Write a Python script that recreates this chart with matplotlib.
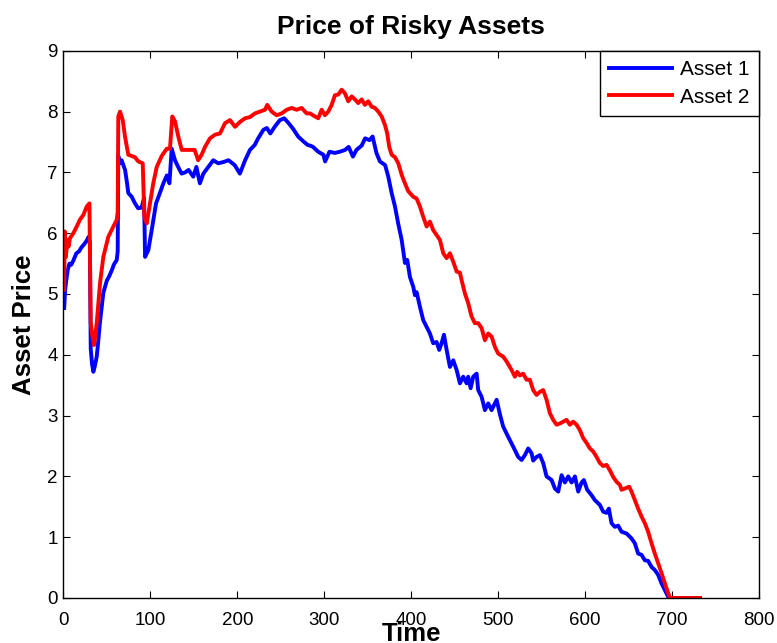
import matplotlib
matplotlib.use("Agg")
import matplotlib.pyplot as plt

plt.rcParams['font.family'] = ['Liberation Sans', 'DejaVu Sans']

# Asset 1 (blue)
asset1_time = [1, 2, 3, 5, 7, 9, 11.5, 15, 18, 21, 24, 27, 29, 30.5, 31.5, 33, 34.5, 36,
               38.4, 40, 42, 46, 50, 53, 56, 58, 61.4, 62.5, 63.2, 65, 67, 71, 73, 74.7,
               78.6, 82.4, 86, 90, 92.8, 94, 97.7, 101.6, 106.6, 111, 115, 119, 122, 124.6,
               128.4, 132, 136, 140, 144, 149.4, 153, 157, 161, 166.7, 172.4, 178, 184, 190,
               197, 203, 209, 214.6, 220, 224, 230, 234, 238, 243, 249, 254, 259, 264, 270,
               276, 281, 284, 287, 293, 299, 301, 306, 312, 318, 324, 328, 333, 337, 343,
               347, 352, 355.6, 360, 364, 370, 373.6, 377.5, 381.3, 385, 389, 392.8, 395.4,
               398.5, 402.3, 404.3, 406.2, 410, 413.8, 417.7, 421.5, 425.3, 429.2, 432.2,
               434.9, 437.6, 440.7, 444.5, 448.3, 452.2, 456, 459.8, 463.7, 465.5, 468.3,
               471.3, 475.2, 477, 480.9, 484.7, 488.5, 492.4, 498.2, 502, 505.7, 511.5,
               517.2, 523, 526.9, 530.7, 534.5, 538.4, 540.2, 544.1, 547.9, 551.7, 555.6,
               561.4, 565.2, 569, 572.9, 576.7, 580.5, 584.4, 588.2, 592, 595.9, 598.5,
               602.3, 607.4, 611.1, 616.9, 620.7, 624.6, 627.2, 630.3, 634.1, 637.9, 641.8,
               647.6, 653.3, 657.1, 660.9, 664.8, 668.6, 672.4, 676.3, 680.1, 683.9, 687.8,
               691.6, 695.4, 696.5, 732]
asset1_price = [4.77, 5.05, 5.18, 5.39, 5.50, 5.48, 5.55, 5.67, 5.70, 5.77, 5.82, 5.88, 5.94,
                5.85, 4.10, 3.85, 3.72, 3.80, 3.97, 4.20, 4.52, 5.02, 5.22, 5.30, 5.40, 5.48,
                5.56, 5.70, 7.27, 7.15, 7.20, 7.04, 6.85, 6.66, 6.60, 6.49, 6.41, 6.42, 6.58,
                5.61, 5.72, 6.05, 6.49, 6.66, 6.82, 6.95, 6.82, 7.39, 7.20, 7.09, 6.98, 7.00,
                7.04, 6.93, 7.09, 6.82, 6.98, 7.09, 7.20, 7.15, 7.17, 7.20, 7.12, 6.98, 7.20,
                7.37, 7.45, 7.56, 7.70, 7.73, 7.64, 7.75, 7.86, 7.89, 7.81, 7.72, 7.59, 7.51,
                7.45, 7.44, 7.42, 7.34, 7.29, 7.18, 7.34, 7.32, 7.34, 7.37, 7.42, 7.26, 7.37,
                7.44, 7.56, 7.53, 7.59, 7.32, 7.18, 7.12, 6.93, 6.66, 6.44, 6.16, 5.89, 5.51,
                5.56, 5.28, 5.12, 4.98, 5.03, 4.79, 4.57, 4.46, 4.35, 4.19, 4.21, 4.08, 4.19,
                4.33, 4.08, 3.80, 3.91, 3.75, 3.53, 3.64, 3.53, 3.64, 3.45, 3.64, 3.69, 3.42,
                3.31, 3.09, 3.20, 3.09, 3.26, 3.02, 2.82, 2.65, 2.49, 2.32, 2.27, 2.35, 2.46,
                2.38, 2.26, 2.32, 2.35, 2.22, 2.00, 1.94, 1.80, 1.75, 2.02, 1.90, 2.00, 1.90,
                2.00, 1.75, 1.90, 1.94, 1.78, 1.69, 1.61, 1.53, 1.42, 1.40, 1.47, 1.23, 1.17,
                1.19, 1.09, 1.06, 0.98, 0.90, 0.73, 0.71, 0.62, 0.61, 0.51, 0.46, 0.38, 0.24,
                0.13, 0.02, 0.0, 0.0]

# Asset 2 (red)
asset2_time = [1, 1.6, 3, 4.5, 6, 7.7, 11.5, 15.4, 19, 23, 27, 30, 31.5, 33.5, 35.3, 38.4,
               42.2, 46, 51.7, 57.5, 61.4, 62.5, 63.2, 65.2, 68.3, 70.9, 74.7, 78.6, 82.4,
               86.2, 91.3, 93.1, 95.9, 99.7, 103.4, 107.4, 113.1, 118.9, 122.6, 125.3, 128.4,
               132.2, 136.1, 143.7, 151, 155, 159, 162.9, 168.6, 174.4, 180.1, 185.9, 191.6,
               197.4, 203.1, 208.9, 214.6, 220.3, 226.1, 231.8, 234.5, 239.5, 245.3, 251,
               256.8, 262.5, 268.3, 274, 279.8, 283.6, 289.3, 293.1, 297, 300.8, 304.6, 308.5,
               312.3, 316.1, 320, 323.8, 327.6, 331.5, 335.3, 339.1, 343, 346.8, 350.6, 354.5,
               358.3, 362.1, 366, 369.8, 372.4, 374.7, 377.5, 381.3, 385.1, 389, 392.8, 396.6,
               402.3, 406.2, 410, 413.8, 417.7, 421.5, 425.3, 429.2, 433, 436.8, 440.7, 444.5,
               448.3, 452.2, 456, 457.9, 461.7, 465.5, 469.4, 473.2, 477, 480.9, 484.7, 488.5,
               492.4, 496.2, 500, 505.7, 509.7, 515.4, 519.2, 521.8, 524.9, 528.7, 532.6,
               536.4, 540.2, 544.1, 547.9, 551.7, 555.6, 559.4, 563.2, 567.1, 570.9, 574.7,
               578.6, 582.4, 586.2, 590.1, 593.9, 597.7, 601.6, 605.4, 609.2, 613.1, 616.9,
               620.7, 624.6, 628.4, 632.2, 636.1, 639.9, 641.8, 645.6, 650.6, 653.3, 657.1,
               660.9, 664.8, 668.6, 672.4, 676.3, 680.1, 683.9, 687.8, 691.6, 695.4, 697.4, 732]
asset2_price = [5.07, 6.03, 5.61, 5.89, 5.78, 5.92, 6.00, 6.11, 6.22, 6.30, 6.44, 6.49, 4.52,
                4.30, 4.16, 4.52, 5.18, 5.61, 5.94, 6.11, 6.22, 6.35, 7.92, 8.00, 7.86, 7.59,
                7.29, 7.27, 7.25, 7.18, 7.15, 6.28, 6.16, 6.49, 6.82, 7.09, 7.27, 7.39, 7.39,
                7.92, 7.84, 7.59, 7.37, 7.37, 7.37, 7.20, 7.29, 7.42, 7.56, 7.62, 7.64, 7.81,
                7.86, 7.75, 7.83, 7.89, 7.91, 7.97, 8.00, 8.03, 8.11, 8.00, 7.94, 7.97, 8.03,
                8.06, 8.03, 8.06, 7.97, 7.97, 7.92, 7.89, 8.03, 7.94, 8.00, 8.11, 8.27, 8.28,
                8.36, 8.30, 8.17, 8.25, 8.20, 8.14, 8.20, 8.11, 8.17, 8.08, 8.06, 8.00, 7.92,
                7.78, 7.64, 7.42, 7.29, 7.25, 7.15, 6.96, 6.82, 6.69, 6.60, 6.57, 6.44, 6.27,
                6.11, 6.19, 6.05, 5.97, 5.89, 5.67, 5.59, 5.67, 5.53, 5.37, 5.35, 5.23, 5.01,
                4.85, 4.63, 4.52, 4.52, 4.44, 4.24, 4.35, 4.30, 4.13, 4.02, 3.97, 3.89, 3.75,
                3.64, 3.72, 3.66, 3.69, 3.59, 3.59, 3.42, 3.34, 3.39, 3.42, 3.26, 3.04, 2.93,
                2.85, 2.87, 2.90, 2.93, 2.85, 2.90, 2.85, 2.76, 2.63, 2.55, 2.46, 2.41, 2.32,
                2.22, 2.17, 2.19, 2.10, 1.99, 1.91, 1.86, 1.78, 1.80, 1.83, 1.75, 1.61, 1.47,
                1.34, 1.23, 1.09, 0.90, 0.73, 0.57, 0.41, 0.24, 0.08, 0.0, 0.0]

x_ticks = [0, 100, 200, 300, 400, 500, 600, 700, 800]
y_ticks = [0, 1, 2, 3, 4, 5, 6, 7, 8, 9]

fig = plt.figure(figsize=(7.77, 6.43), dpi=100)
ax = fig.add_axes([0.0815, 0.070, 0.8955, 0.851])

ax.plot(asset1_time, asset1_price, color=(0, 0, 1), lw=2.8, label="Asset 1")
ax.plot(asset2_time, asset2_price, color=(1, 0, 0), lw=2.8, label="Asset 2")

ax.set_xlim(0, 800)
ax.set_ylim(0, 9)
ax.set_xticks(x_ticks)
ax.set_yticks(y_ticks)
ax.tick_params(direction="in", top=True, right=True, labelsize=13.5, length=5)
ax.tick_params(axis="x", pad=10)
ax.tick_params(axis="y", pad=4)
for s in ax.spines.values():
    s.set_linewidth(1.0)

ax.set_title("Price of Risky Assets", fontsize=19, fontweight="bold", pad=12)
ax.set_xlabel("Time", fontsize=18.5, fontweight="bold", labelpad=-5)
ax.set_ylabel("Asset Price", fontsize=18.5, fontweight="bold", labelpad=8)

leg = ax.legend(loc="upper right", fontsize=15, fancybox=False, framealpha=1,
                edgecolor="black", borderaxespad=0, handlelength=3.0,
                handletextpad=0.4, borderpad=0.45, labelspacing=0.4)
leg.get_frame().set_linewidth(1.0)

fig.savefig("out.png", dpi=100)
